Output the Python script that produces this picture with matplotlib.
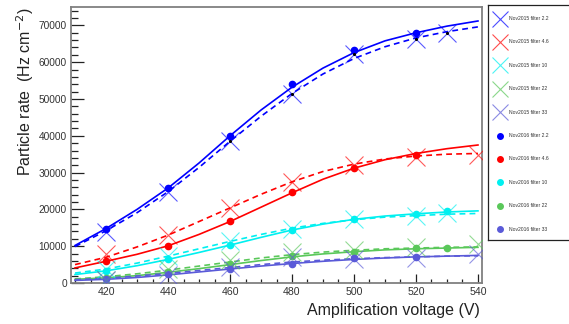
import matplotlib
matplotlib.use("Agg")
import matplotlib.pyplot as plt
from matplotlib.ticker import MultipleLocator

plt.rcParams['font.family'] = ['Liberation Sans', 'DejaVu Sans']

# measured points, Nov2015 (crosses) and Nov2016 (dots)
v15 = [420, 440, 460, 480, 500, 520, 530]
v15_long = [420, 440, 460, 480, 500, 520, 540]
v16 = [420, 440, 460, 480, 500, 520]
v16_long = [420, 440, 460, 480, 500, 520, 530]

nov15_22 = [13800, 24700, 38600, 51400, 62100, 66400, 68000]
nov15_46 = [7800, 13000, 20500, 27500, 32200, 34200, 34900]
nov15_10 = [3900, 7400, 11400, 14800, 17400, 18100, 18900]
nov15_22f = [800, 3900, 6200, 8400, 9100, 9800, 10500]
nov15_33 = [800, 2300, 4300, 7000, 6600, 6900, 7800]

nov16_22 = [14800, 25700, 39900, 54200, 63400, 67800]
nov16_46 = [5900, 10150, 16750, 24650, 31250, 34750]
nov16_10 = [3300, 6400, 10250, 14500, 17400, 18650, 19500]
nov16_22f = [1450, 3000, 5100, 7350, 8400, 9500, 9600]
nov16_33 = [1000, 2350, 3700, 5250, 6800, 7150]

v_fit = [410, 420, 430, 440, 450, 460, 470, 480, 490, 500, 510, 520, 530, 540]
fit16_22 = [10200, 14800, 20000, 25800, 32600, 40000, 47000, 53200, 58400, 62600, 65800, 68000, 69800, 71200]
fit15_22 = [9900, 14200, 19100, 24800, 31400, 38500, 45300, 51500, 56800, 61000, 64200, 66600, 68300, 69600]
fit16_46 = [4100, 5900, 7800, 10100, 13200, 16700, 20600, 24500, 28200, 31200, 33500, 35200, 36500, 37500]
fit15_46 = [5000, 7000, 9800, 13000, 16700, 20400, 24100, 27500, 30300, 32300, 33700, 34500, 35000, 35200]
fit16_10 = [2300, 3300, 4700, 6400, 8300, 10300, 12400, 14400, 16000, 17300, 18200, 18800, 19300, 19600]
fit15_10 = [2700, 3800, 5400, 7300, 9300, 11300, 13200, 14900, 16200, 17200, 17900, 18300, 18700, 18900]
fit16_22f = [1000, 1400, 2000, 2900, 3900, 5000, 6100, 7100, 7900, 8500, 9000, 9300, 9500, 9700]
fit15_22f = [1100, 1700, 2500, 3500, 4600, 5700, 6800, 7700, 8400, 8900, 9300, 9500, 9700, 9800]
fit16_33 = [700, 1000, 1500, 2200, 3000, 3800, 4600, 5300, 5900, 6400, 6800, 7100, 7300, 7500]
fit15_33 = [900, 1300, 1900, 2600, 3400, 4200, 5000, 5700, 6200, 6600, 6900, 7100, 7300, 7400]

filters = ['2.2', '4.6', '10', '22', '33']
colors = ['#0000ff', '#ff0000', '#00f0f0', '#5ac85a', '#5a5ad8']

fig = plt.figure(figsize=(5.69, 3.24), dpi=100)
ax = fig.add_axes([71/569, 1-283/324, 411/569, 276/324])

series15 = [(v15, nov15_22), (v15_long, nov15_46), (v15, nov15_10), (v15_long, nov15_22f), (v15_long, nov15_33)]
series16 = [(v16, nov16_22), (v16, nov16_46), (v16_long, nov16_10), (v16_long, nov16_22f), (v16, nov16_33)]
fits16 = [fit16_22, fit16_46, fit16_10, fit16_22f, fit16_33]
fits15 = [fit15_22, fit15_46, fit15_10, fit15_22f, fit15_33]

for i in range(5):
    c = colors[i]
    ax.plot(v_fit, fits16[i], '-', color=c, lw=1.2, zorder=3)
    ax.plot(v_fit, fits15[i], '--', color=c, lw=1.2, dashes=(3.5, 2.5), zorder=3)
    ax.plot(series16[i][0], series16[i][1], 'o', color=c, ms=4.5, mec=c, zorder=4)
    ax.plot(series15[i][0], series15[i][1], 'x', color=c, ms=13, mew=0.8, alpha=0.65, zorder=5)

# small black centre points on the 2.2 crosses
ax.plot(v15[2:], nov15_22[2:], '.', color='black', ms=2.5, zorder=6)

ax.set_xlim(408.7, 541.3)
ax.set_ylim(0, 75000)
ax.xaxis.set_major_locator(MultipleLocator(20))
ax.xaxis.set_minor_locator(MultipleLocator(5))
ax.yaxis.set_major_locator(MultipleLocator(10000))
ax.yaxis.set_minor_locator(MultipleLocator(2000))
ax.tick_params(axis='both', which='both', direction='in', colors='#222222',
               labelsize=7.3, labelcolor='#333333', width=0.9)
ax.tick_params(axis='y', which='major', length=9.5, pad=3)
ax.tick_params(axis='y', which='minor', length=5)
ax.tick_params(axis='x', which='major', length=6.5, pad=3)
ax.tick_params(axis='x', which='minor', length=3)
ax.tick_params(axis='x', which='major', labelsize=7.6)
for s in ax.spines.values():
    s.set_color('#808080')
    s.set_linewidth(1.3)

fig.text(25/569, 1-8/324, 'Particle rate  (Hz cm$^{-2}$)', rotation=90,
         ha='center', va='top', fontsize=11.5, color='#222222')
fig.text(480/569, 1-311/324, 'Amplification voltage (V)', ha='right',
         va='center', fontsize=11.5, color='#222222')

# legend box drawn in its own axes, pixel units
lg = fig.add_axes([488/569, 1-240/324, 90/569, 235/324])
lg.set_xlim(0, 90)
lg.set_ylim(235, 0)
lg.set_xticks([])
lg.set_yticks([])
for s in lg.spines.values():
    s.set_color('#222222')
    s.set_linewidth(0.9)
labels = ['Nov2015 filter ' + f for f in filters] + ['Nov2016 filter ' + f for f in filters]
for k, lab in enumerate(labels):
    y = 13.5 + k * 23.4
    c = colors[k % 5]
    if k < 5:
        lg.plot([12], [y], 'x', color=c, ms=11, mew=0.8, alpha=0.7)
    else:
        lg.plot([12], [y], 'o', color=c, ms=4, mec=c)
    lg.text(21, y, lab, fontsize=3.6, va='center', ha='left', color='#333333')

fig.savefig('out.png', dpi=100)
